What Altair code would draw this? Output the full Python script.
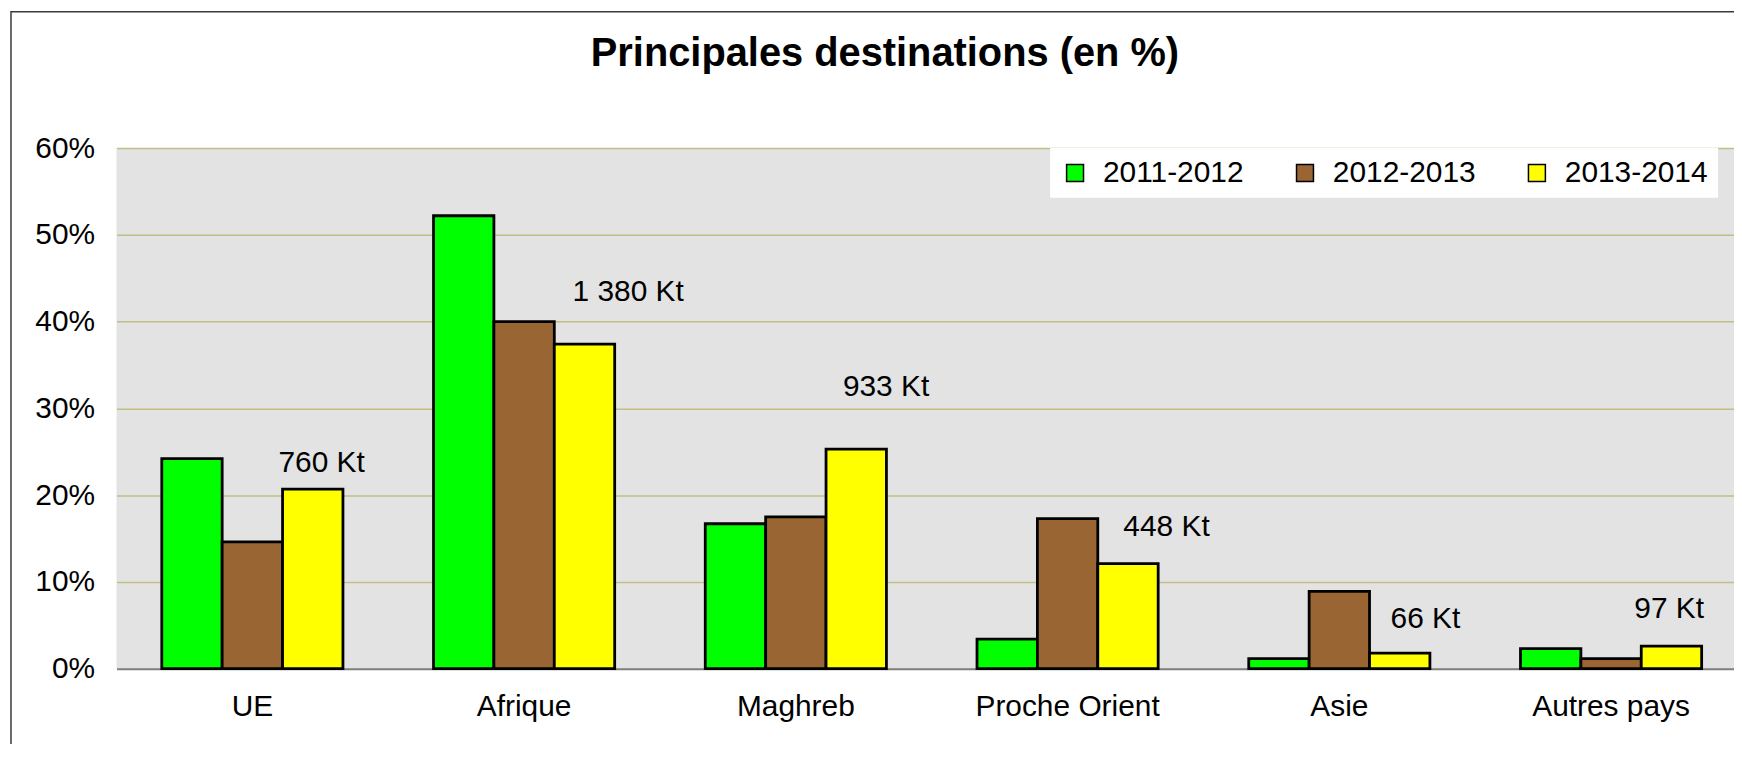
import altair as alt
import pandas as pd

FONT = "Liberation Sans"

# ---- data ----
categories = ["UE", "Afrique", "Maghreb", "Proche Orient", "Asie", "Autres pays"]
series = ["2011-2012", "2012-2013", "2013-2014"]
colors = ["#00FF00", "#996633", "#FFFF00"]
v_2011_2012 = [24.2, 52.2, 16.7, 3.4, 1.15, 2.3]
v_2012_2013 = [14.6, 40.0, 17.5, 17.3, 8.9, 1.15]
v_2013_2014 = [20.7, 37.4, 25.3, 12.1, 1.8, 2.6]
volume_labels = ["760 Kt", "1 380 Kt", "933 Kt", "448 Kt", "66 Kt", "97 Kt"]
# annotation anchors in data space (category units / percent)
label_x_cat = [0.755, 1.883, 2.832, 3.864, 4.817, 5.714]
label_y_pct = [23.7, 43.4, 32.4, 16.3, 5.7, 6.9]
y_ticks = [0, 10, 20, 30, 40, 50, 60]
title_text = "Principales destinations (en %)"

rows = []
for s, vals in zip(series, [v_2011_2012, v_2012_2013, v_2013_2014]):
    for c, v in zip(categories, vals):
        rows.append({"cat": c, "series": s, "value": v})
df = pd.DataFrame(rows)
labels_df = pd.DataFrame({"label": volume_labels, "lx": label_x_cat, "ly": label_y_pct})

W, H = 1625, 523
BAND_RANGE = 1638

yscale = alt.Scale(domain=[0, 60], nice=False, zero=True)
yaxis = alt.Axis(values=y_ticks, labelExpr="datum.value + '%'", labelFont=FONT,
                 labelFontSize=30, labelColor="black", labelPadding=22,
                 ticks=False, tickSize=0, domain=False, grid=True,
                 gridColor="#C2BE86", gridWidth=1.5, title=None)

bars = alt.Chart(df).mark_bar(stroke="black", strokeWidth=2.8).encode(
    x=alt.X("cat:N", sort=categories,
            scale=alt.Scale(domain=categories, range=[0, BAND_RANGE],
                            paddingInner=0, paddingOuter=0),
            axis=alt.Axis(labelAngle=0, labelFont=FONT, labelFontSize=30,
                          labelColor="black", labelPadding=23, labelLimit=0,
                          ticks=False, tickSize=0, domain=True, domainColor="#808080",
                          domainWidth=2, grid=False, title=None)),
    xOffset=alt.XOffset("series:N",
                        scale=alt.Scale(domain=series, paddingInner=0, paddingOuter=0.75)),
    y=alt.Y("value:Q", scale=yscale, axis=yaxis),
    color=alt.Color("series:N", scale=alt.Scale(domain=series, range=colors),
                    legend=alt.Legend(title=None, orient="none", legendX=938, legendY=0,
                                      direction="horizontal", columns=3,
                                      fillColor="white", padding=10,
                                      symbolType="square", symbolSize=289,
                                      symbolStrokeColor="black", symbolStrokeWidth=1.5,
                                      symbolOpacity=1, labelFont=FONT, labelFontSize=30,
                                      labelColor="black", labelOffset=13,
                                      columnPadding=46, labelLimit=0)),
)

text = alt.Chart(labels_df).mark_text(font=FONT, fontSize=30, color="black",
                                      align="center", baseline="middle").encode(
    x=alt.X("lx:Q", scale=alt.Scale(domain=[0, 6], range=[0, BAND_RANGE], nice=False, zero=False),
            axis=None),
    y=alt.Y("ly:Q", scale=yscale, axis=yaxis),
    text="label:N",
)

title = alt.Chart(pd.DataFrame({"t": [title_text]})).mark_text(
    font=FONT, fontSize=40, fontWeight="bold", color="black",
    align="center", baseline="middle").encode(
    text="t:N", x=alt.value(772), y=alt.value(-94))

frame = alt.Chart(pd.DataFrame({"a": [0]})).mark_rect(
    fillOpacity=0, stroke="#3a3a3a", strokeWidth=1.5).encode(
    x=alt.value(-106), x2=alt.value(1800), y=alt.value(-137), y2=alt.value(700))

chart = alt.layer(frame, bars, text, title).resolve_scale(x="independent").properties(
    width=W, height=H,
    autosize=alt.AutoSizeParams(type="none"),
    padding={"left": 109, "top": 139, "right": 0, "bottom": 74},
    background="white",
).configure_view(fill="#E3E3E3", stroke=None)

chart.save("out.html", embed_options={"renderer": "svg", "actions": False})
